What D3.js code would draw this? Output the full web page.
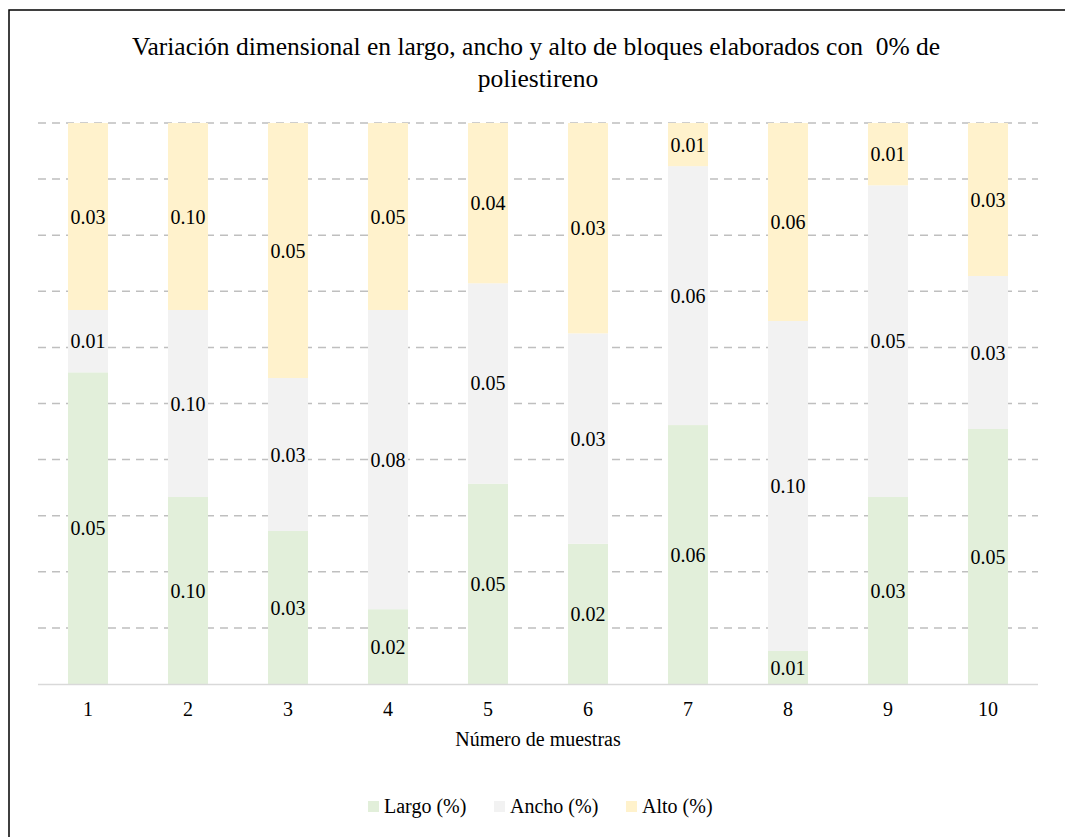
<!DOCTYPE html>
<html>
<head>
<meta charset="utf-8">
<script src="https://cdn.jsdelivr.net/npm/d3@7"></script>
<style>
  body { margin: 0; background: #fff; }
</style>
</head>
<body>
<svg id="chart" width="1065" height="837"></svg>
<script>
// datos
const muestras = ['1', '2', '3', '4', '5', '6', '7', '8', '9', '10'];
const largo = [0.05, 0.10, 0.03, 0.02, 0.05, 0.02, 0.06, 0.01, 0.03, 0.05];
const ancho = [0.01, 0.10, 0.03, 0.08, 0.05, 0.03, 0.06, 0.10, 0.05, 0.03];
const alto = [0.03, 0.10, 0.05, 0.05, 0.04, 0.03, 0.01, 0.06, 0.01, 0.03];
const series = ['Largo (%)', 'Ancho (%)', 'Alto (%)'];
const colores = ['#e2efda', '#f2f2f2', '#fff2cc'];

const FONT = "'Liberation Serif', 'Times New Roman', serif";

const svg = d3.select('#chart');

// marco (solo lados izquierdo y superior visibles)
svg.append('path')
  .attr('d', 'M9,837 L9,10 L1065,10')
  .attr('fill', 'none')
  .attr('stroke', '#000')
  .attr('stroke-width', 1.5);

let plotLeft = 38, plotRight = 1038, plotTop = 123, plotBottom = 684;

let x = d3.scaleBand()
  .domain(muestras)
  .range([plotLeft, plotRight])
  .paddingInner(0.6)
  .paddingOuter(0.3);

let y = d3.scaleLinear()
  .domain([0, 1])
  .range([plotBottom, plotTop]);

// lineas de cuadricula
svg.append('g')
  .selectAll('line')
  .data(d3.range(1, 11).map(d => d / 10))
  .join('line')
  .attr('x1', plotLeft)
  .attr('x2', plotRight)
  .attr('y1', d => y(d))
  .attr('y2', d => y(d))
  .attr('stroke', '#bfbfbf')
  .attr('stroke-width', 1.5)
  .attr('stroke-dasharray', '8,6');

// apilado al 100%
let rows = muestras.map((m, i) => {
  let total = largo[i] + ancho[i] + alto[i];
  return {
    m: m,
    vals: [largo[i], ancho[i], alto[i]],
    pct: [largo[i] / total, ancho[i] / total, alto[i] / total],
  };
});

let stack = d3.stack()
  .keys([0, 1, 2])
  .value((d, k) => d.pct[k]);

let layers = stack(rows);

layers.forEach((layer, k) => {
  let g = svg.append('g');
  g.selectAll('rect')
    .data(layer)
    .join('rect')
    .attr('x', d => x(d.data.m))
    .attr('width', x.bandwidth())
    .attr('y', d => y(d[1]))
    .attr('height', d => y(d[0]) - y(d[1]))
    .attr('fill', colores[k]);

  g.selectAll('text')
    .data(layer)
    .join('text')
    .attr('x', d => x(d.data.m) + x.bandwidth() / 2)
    .attr('y', d => (y(d[0]) + y(d[1])) / 2)
    .attr('dy', '0.35em')
    .attr('text-anchor', 'middle')
    .attr('fill', '#000')
    .style('font-family', FONT)
    .style('font-size', '20px')
    .text(d => d.data.vals[k].toFixed(2));
});

// eje x
let xAxis = svg.append('g')
  .attr('transform', `translate(0,${plotBottom})`)
  .call(d3.axisBottom(x).tickSize(0).tickPadding(18));
xAxis.select('.domain')
  .attr('d', `M${plotLeft},0.5H${plotRight}`)
  .attr('stroke', '#d9d9d9')
  .attr('stroke-width', 1.5);
xAxis.selectAll('text')
  .attr('fill', '#000')
  .style('font-size', '20px')
  .style('font-family', FONT);

// titulos
svg.append('text')
  .attr('x', 536)
  .attr('y', 55)
  .attr('text-anchor', 'middle')
  .attr('fill', '#000')
  .style('font-family', FONT)
  .style('font-size', '25.5px')
  .style('white-space', 'pre')
  .text('Variación dimensional en largo, ancho y alto de bloques elaborados con  0% de');

svg.append('text')
  .attr('x', 538)
  .attr('y', 87)
  .attr('text-anchor', 'middle')
  .attr('fill', '#000')
  .style('font-family', FONT)
  .style('font-size', '25.5px')
  .text('poliestireno');

svg.append('text')
  .attr('x', 538)
  .attr('y', 746)
  .attr('text-anchor', 'middle')
  .attr('fill', '#000')
  .style('font-family', FONT)
  .style('font-size', '20px')
  .text('Número de muestras');

// leyenda
let legendX = [368, 494, 626];
let legend = svg.append('g')
  .selectAll('g')
  .data(series)
  .join('g')
  .attr('transform', (d, i) => `translate(${legendX[i]},801)`);

legend.append('rect')
  .attr('width', 11)
  .attr('height', 11)
  .attr('fill', (d, i) => colores[i]);

legend.append('text')
  .attr('x', 16)
  .attr('y', 12)
  .attr('fill', '#000')
  .style('font-family', FONT)
  .style('font-size', '20px')
  .text(d => d);
</script>
</body>
</html>
